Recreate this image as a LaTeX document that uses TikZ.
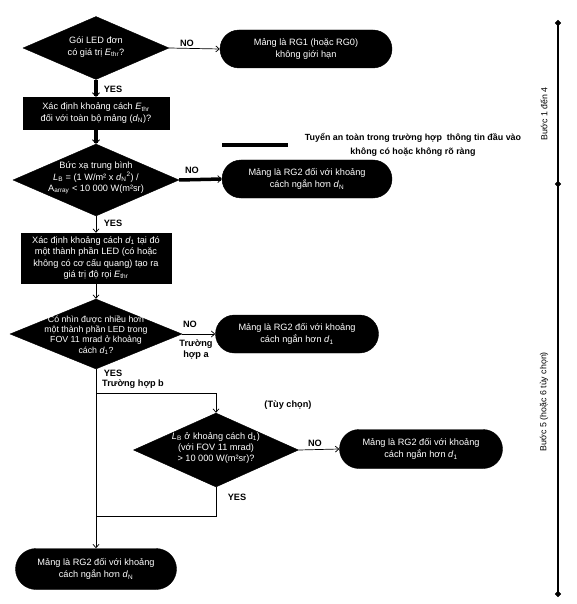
\documentclass[tikz,border=0pt]{standalone}
\usepackage{fontspec}
\setmainfont{Liberation Sans}
\usetikzlibrary{shapes.geometric,shapes.misc,arrows.meta}
\newcommand\myit[1]{\textit{#1}}
\newcommand\lsub[1]{\textsubscript{#1}}
\newcommand\mynodefont{\fontsize{9.2}{11.3}\selectfont}
\newcommand\mytermfont{\fontsize{9.2}{12.5}\selectfont}
\newcommand\mylblfont{\fontsize{9.2}{11}\selectfont\bfseries}
\newcommand\mysidefont{\fontsize{8.8}{10}\selectfont}
\newcommand\mylegfont{\fontsize{8.9}{14}\selectfont\bfseries}
\tikzset{
  dec/.style={diamond, fill=black, draw=black, inner sep=0pt},
  dtxt/.style={text=white, align=center, font=\mynodefont, inner sep=0pt},
  proc/.style={rectangle, fill=black, draw=black, text=white, align=center, font=\mynodefont, inner sep=0pt},
  term/.style={rounded rectangle, fill=black, draw=black, text=white, align=center, font=\mytermfont, inner sep=0pt},
  conn/.style={draw=black, line width=0.7pt, -{Straight Barb[length=3.5pt,width=6pt]}},
  plainline/.style={draw=black, line width=0.7pt},
  safe/.style={draw=black, line width=3.5pt, -{Straight Barb[length=3.5pt,width=7pt,line width=0.8pt]}},
  lbl/.style={font=\mylblfont, inner sep=1pt},
  sidelbl/.style={font=\mysidefont, rotate=90, inner sep=1pt},
  barmark/.style={diamond, fill=black, draw=black, inner sep=0pt, minimum width=6pt, minimum height=6pt},
}
\begin{document}
\begin{tikzpicture}[x=1pt,y=-1pt]
\useasboundingbox[fill=white] (0,0) rectangle (576,604);

% decision 1
\node[dec, minimum width=146pt, minimum height=63pt] (d1) at (96,48) {};
\node[dtxt] (d1t) at (96,47) {Gói LED đơn\\có giá trị \myit{E}\lsub{thr}?};
\node[term, minimum width=172pt, minimum height=38pt] (t1) at (306,49) {Mảng là RG1 (hoặc RG0)\\không giới hạn};

% process 1
\node[proc, minimum width=146pt, minimum height=32pt] (b1) at (96,113) {Xác định khoảng cách \myit{E}\lsub{thr}\\đối với toàn bộ mảng (\myit{d}\lsub{N})?};

% decision 2
\node[dec, minimum width=166pt, minimum height=72pt] (d2) at (96,180) {};
\node[dtxt] (d2t) at (96,178) {Bức xạ trung bình\\\myit{L}\lsub{B} = (1 W/m² x \myit{d}\lsub{N}\textsuperscript{2}) /\\A\lsub{array} < 10 000 W(m²sr)};
\node[term, minimum width=170pt, minimum height=38pt] (t2) at (307,179) {Mảng là RG2 đối với khoảng\\cách ngắn hơn \myit{d}\lsub{N}};

% process 2
\node[proc, minimum width=150pt, minimum height=50pt] (b2) at (96,258) {Xác định khoảng cách \myit{d}\lsub{1} tại đó\\một thành phần LED (có hoặc\\không có cơ cấu quang) tạo ra\\giá trị độ rọi \myit{E}\lsub{thr}};

% decision 3
\node[dec, minimum width=172pt, minimum height=70pt] (d3) at (96,334) {};
\node[dtxt, font=\fontsize{8.8}{10.3}\selectfont] (d3t) at (96,335) {Có nhìn được nhiều hơn\\một thành phần LED trong\\FOV 11 mrad ở khoảng\\cách \myit{d}\lsub{1}?};
\node[term, minimum width=163pt, minimum height=38pt] (t3) at (297,334) {Mảng là RG2 đối với khoảng\\cách ngắn hơn \myit{d}\lsub{1}};

% decision 4
\node[dec, minimum width=165pt, minimum height=74pt] (d4) at (216,450) {};
\node[dtxt] (d4t) at (216,448) {\myit{L}\lsub{B} ở khoảng cách d\lsub{1})\\(với FOV 11 mrad)\\> 10 000 W(m²sr)?};
\node[term, minimum width=163pt, minimum height=39pt] (t4) at (421,449) {Mảng là RG2 đối với khoảng\\cách ngắn hơn \myit{d}\lsub{1}};

% final terminal
\node[term, minimum width=161pt, minimum height=41pt] (t5) at (96,569) {Mảng là RG2 đối với khoảng\\cách ngắn hơn \myit{d}\lsub{N}};

% labels
\node[lbl] (no1) at (187,43) {NO};
\node[lbl] (yes1) at (113,89) {YES};
\node[lbl] (no2) at (192,170) {NO};
\node[lbl] (yes2) at (113,223) {YES};
\node[lbl] (no3) at (190,324) {NO};
\node[lbl, align=center] (casea) at (196,350) {Trường\\hợp a};
\node[lbl] (yes3) at (113,373) {YES};
\node[lbl, anchor=west] (caseb) at (101,384) {Trường hợp b};
\node[lbl] (opt) at (288,405) {(Tùy chọn)};
\node[lbl] (no4) at (315,443) {NO};
\node[lbl] (yes4) at (237,497) {YES};

% legend
\coordinate (lg1) at (222,145);
\coordinate (lg2) at (288,145);
\draw[draw=black, line width=3.5pt] (lg1) -- (lg2);
\node[font=\mylegfont, align=center] (legt) at (413,145) {Tuyển an toàn trong trường hợp\ \ thông tin đầu vào\\không có hoặc không rõ ràng};

% connectors
\draw[conn] (d1.east) -- (t1.west);
\draw[safe] (d1.south) -- (b1.north);
\draw[safe] (b1.south) -- (d2.north);
\draw[safe] (d2.east) -- (t2.west);
\draw[conn] (d2.south) -- (b2.north);
\draw[conn] (b2.south) -- (d3.north);
\draw[conn] (d3.east) -- (t3.west);
\draw[conn] (d3.south) -- (t5.north);
\coordinate (j1) at (96,393);
\coordinate (j2) at (96,516);
\draw[conn] (j1) -| (d4.north);
\draw[plainline] (d4.south) |- (j2);
\draw[conn] (d4.east) -- (t4.west);

% side bar
\node[barmark] (m1) at (558,23) {};
\node[barmark] (m2) at (558,184) {};
\node[barmark] (m3) at (558,594) {};
\draw[draw=black, line width=1.3pt] (m1.center) -- (m3.center);
\node[sidelbl] (s1) at (544,114) {Bước 1 đến 4};
\node[sidelbl] (s2) at (544,402) {Bước 5 (hoặc 6 tùy chọn)};
\end{tikzpicture}
\end{document}
